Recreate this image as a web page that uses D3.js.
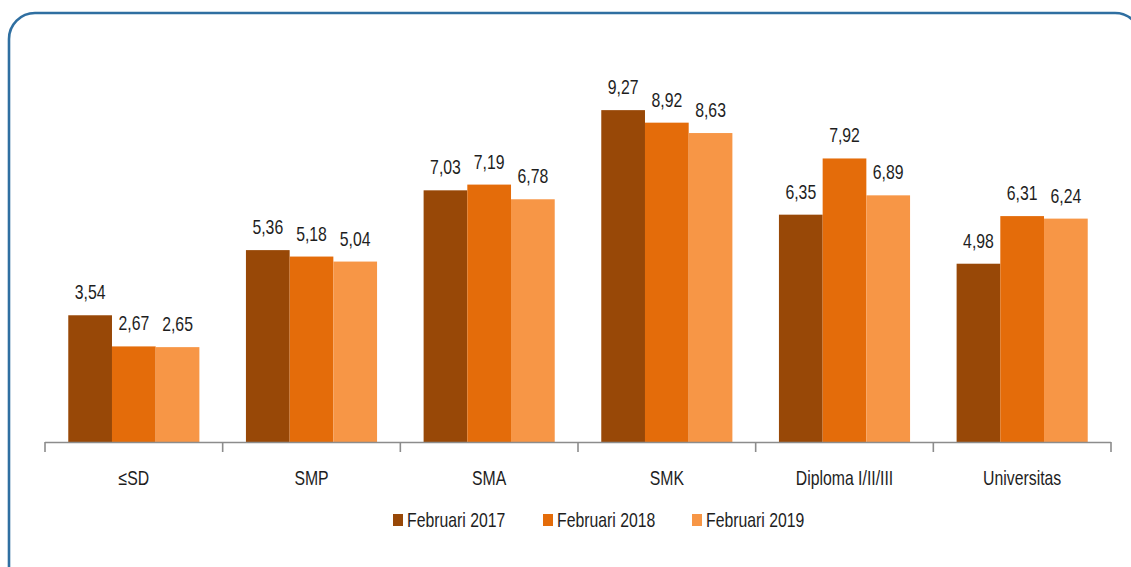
<!DOCTYPE html>
<html><head><meta charset="utf-8">
<script src="https://cdn.jsdelivr.net/npm/d3@7"></script>
<style>html,body{margin:0;padding:0;background:#fff;}svg{display:block;}</style>
</head><body>
<svg id="chart" width="1131" height="567"></svg>
<script>
const categories = ["≤SD", "SMP", "SMA", "SMK", "Diploma I/II/III", "Universitas"];
const seriesNames = ["Februari 2017", "Februari 2018", "Februari 2019"];
const feb2017 = [3.54, 5.36, 7.03, 9.27, 6.35, 4.98];
const feb2018 = [2.67, 5.18, 7.19, 8.92, 7.92, 6.31];
const feb2019 = [2.65, 5.04, 6.78, 8.63, 6.89, 6.24];
const seriesValues = [feb2017, feb2018, feb2019];
const colors = ["#984807", "#E46C0A", "#F79646"];

const FONT = "'Liberation Sans',Arial,sans-serif";
const FS = 20, SX = 0.79;
const svg = d3.select("#chart");

// condensed text helper: place at (x,y) and squeeze horizontally
function narrowText(sel, xf, yf, anchor) {
  return sel.append("text")
    .attr("transform", d => `translate(${xf(d)},${yf(d)}) scale(${SX},1)`)
    .attr("text-anchor", anchor).attr("font-family", FONT).attr("font-size", FS).attr("fill", "#1e1e1e");
}

// border
svg.append("rect").attr("x", 9).attr("y", 13).attr("width", 1132).attr("height", 600)
  .attr("rx", 26).attr("ry", 26).attr("fill", "none").attr("stroke", "#2f6fa1").attr("stroke-width", 2.6);

const x0 = d3.scaleBand().domain(categories).range([45, 1111]).padding(0);
const bw = x0.bandwidth();
const pad = bw * 0.131;
const x1 = d3.scaleBand().domain(seriesNames).range([pad, bw - pad]).padding(0);
const y = d3.scaleLinear().domain([0, 10]).range([442, 84]);

const data = categories.map((c, i) => ({cat: c, vals: seriesNames.map((s, j) => ({s, j, v: seriesValues[j][i]}))}));

const g = svg.append("g");
const groups = g.selectAll("g.grp").data(data).enter().append("g")
  .attr("transform", d => `translate(${x0(d.cat)},0)`);
groups.selectAll("rect").data(d => d.vals).enter().append("rect")
  .attr("x", d => x1(d.s)).attr("width", x1.bandwidth())
  .attr("y", d => y(d.v)).attr("height", d => y(0) - y(d.v))
  .attr("fill", d => colors[d.j]);
groups.selectAll("g.lbl").data(d => d.vals).enter().append("g").attr("class", "lbl")
  .call(s => narrowText(s, d => x1(d.s) + x1.bandwidth() / 2, d => y(d.v) - 16, "middle")
    .text(d => d.v.toFixed(2).replace(".", ",")));

// axis
const axisG = svg.append("g");
axisG.append("line").attr("x1", 45).attr("x2", 1111).attr("y1", 442.5).attr("y2", 442.5)
  .attr("stroke", "#8c8c8c").attr("stroke-width", 1.6);
const bounds = categories.map(c => x0(c)).concat([x0(categories[categories.length - 1]) + bw]);
axisG.selectAll("line.tick").data(bounds).enter().append("line")
  .attr("x1", d => d).attr("x2", d => d).attr("y1", 442).attr("y2", 452)
  .attr("stroke", "#8c8c8c").attr("stroke-width", 1.6);
axisG.selectAll("g.cat").data(categories).enter().append("g").attr("class", "cat")
  .call(s => narrowText(s, d => x0(d) + bw / 2, () => 485, "middle").text(d => d));

// legend
const legendX = [393, 543, 692];
const lg = svg.append("g");
const items = lg.selectAll("g").data(seriesNames).enter().append("g")
  .attr("transform", (d, i) => `translate(${legendX[i]},0)`);
items.append("rect").attr("x", 0).attr("y", 514).attr("width", 10).attr("height", 12)
  .attr("fill", (d, i) => colors[i]);
items.call(s => narrowText(s, () => 14, () => 527, "start").text(d => d));
</script>
</body></html>
